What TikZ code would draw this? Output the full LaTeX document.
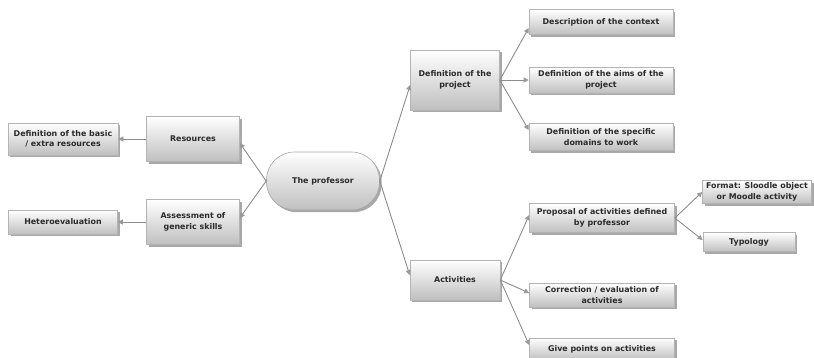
\documentclass[tikz,border=0pt]{standalone}
\usepackage{fontspec}
\setmainfont{DejaVu Sans}
\usetikzlibrary{arrows.meta,shadows}
\definecolor{inkgray}{HTML}{2A2A2A}
\definecolor{edgegray}{HTML}{8C8C8C}
\definecolor{rimgray}{HTML}{B4B4B4}
\tikzset{
  box/.style={rectangle, draw=rimgray, line width=0.6pt,
    top color=white, bottom color=gray!50, shading angle=0,
    drop shadow={shadow xshift=2.2pt, shadow yshift=-2.2pt, fill=gray!75, opacity=0.9},
    font=\bfseries\fontsize{7.9}{10.5}\selectfont, text=inkgray, align=center,
    inner sep=1pt},
  hub/.style={box, rounded corners=28pt, draw=gray!70},
  link/.style={draw=edgegray, line width=0.9pt,
    -{Triangle[width=5pt,length=5pt,color=gray!80,fill=gray!80]}},
}
\begin{document}
\begin{tikzpicture}[x=1pt,y=-1pt]
\useasboundingbox (0,0) rectangle (814,357);

% central node
\node[hub, minimum width=113pt, minimum height=58pt] (prof) at (323,181) {The professor};

% left branch
\node[box, minimum width=93pt, minimum height=45pt] (res) at (193,139) {Resources};
\node[box, minimum width=93pt, minimum height=45pt] (skills) at (193,222) {Assessment of\\generic skills};
\node[box, minimum width=110pt, minimum height=32pt] (basic) at (63,139) {Definition of the basic\\/ extra resources};
\node[box, minimum width=109pt, minimum height=24pt] (hetero) at (63,222) {Heteroevaluation};

% project branch
\node[box, minimum width=89pt, minimum height=60pt] (proj) at (455,80) {Definition of the\\project};
\node[box, minimum width=144pt, minimum height=25pt] (ctx) at (601,22) {Description of the context};
\node[box, minimum width=144pt, minimum height=26pt] (aims) at (601,80) {Definition of the aims of the\\project};
\node[box, minimum width=144pt, minimum height=27pt] (dom) at (601,137) {Definition of the specific\\domains to work};

% activities branch
\node[box, minimum width=90pt, minimum height=40pt] (act) at (455,280) {Activities};
\node[box, minimum width=145pt, minimum height=29pt] (prop) at (602,218) {Proposal of activities defined\\by professor};
\node[box, minimum width=109pt, minimum height=23pt] (fmt) at (757,192) {Format: Sloodle object\\or Moodle activity};
\node[box, minimum width=92pt, minimum height=19pt] (typ) at (749,242) {Typology};
\node[box, minimum width=145pt, minimum height=24pt] (corr) at (602,295) {Correction / evaluation of\\activities};
\node[box, minimum width=145pt, minimum height=22pt] (pts) at (602,349) {Give points on activities};

% connectors
\draw[link] (prof.west) -- ([yshift=-4pt]res.east);
\draw[link] (prof.west) -- ([yshift=4pt]skills.east);
\draw[link] (res.west) -- (basic.east);
\draw[link] (skills.west) -- (hetero.east);
\draw[link] (prof.east) -- ([yshift=-5pt]proj.west);
\draw[link] (prof.east) -- ([yshift=5pt]act.west);
\draw[link] (proj.east) -- ([yshift=-6pt]ctx.west);
\draw[link] (proj.east) -- (aims.west);
\draw[link] (proj.east) -- ([yshift=7pt]dom.west);
\draw[link] (act.east) -- ([yshift=3pt]prop.west);
\draw[link] (act.east) -- ([yshift=2pt]corr.west);
\draw[link] (act.east) -- ([yshift=4pt]pts.west);
\draw[link] (prop.east) -- (fmt.west);
\draw[link] (prop.east) -- ([yshift=2pt]typ.west);
\end{tikzpicture}
\end{document}
